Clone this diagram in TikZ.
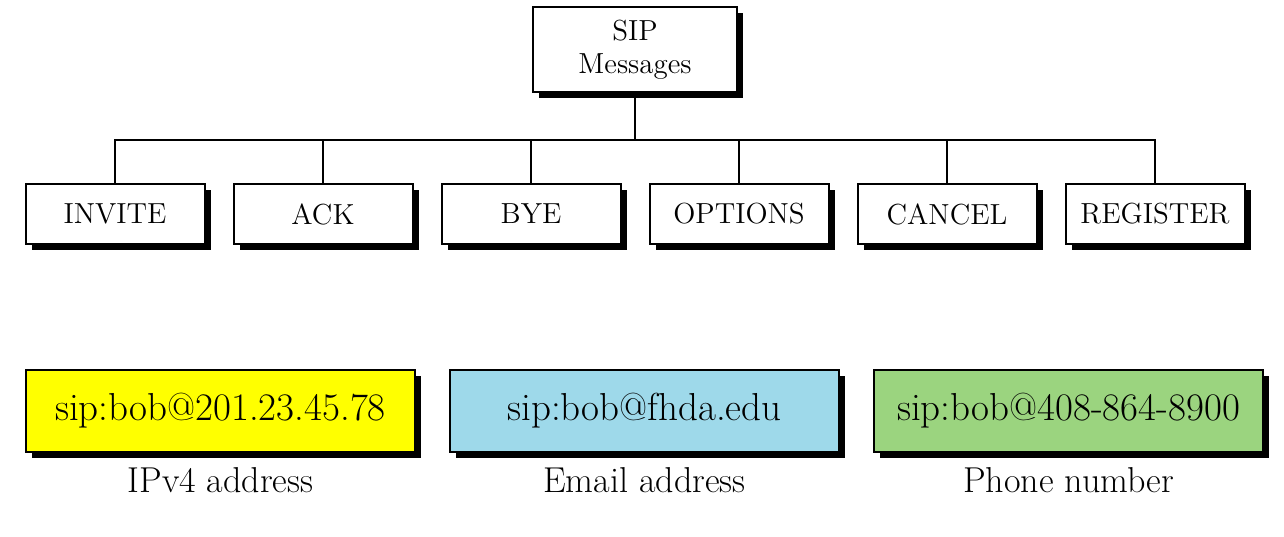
\documentclass[tikz,border=0pt]{standalone}
\usetikzlibrary{positioning,shadows}
\definecolor{ipyellow}{HTML}{FFFF00}
\definecolor{mailblue}{HTML}{9ED9EA}
\definecolor{phonegreen}{HTML}{9BD47F}
\tikzset{
  boxshadow/.style={drop shadow={shadow xshift=3pt, shadow yshift=-3pt, fill=black, opacity=1}},
  msgbox/.style={rectangle, draw, line width=1pt, fill=white, boxshadow,
    minimum width=89.5pt, minimum height=30pt, inner sep=0pt,
    font=\fontsize{14.5}{17}\selectfont},
  rootbox/.style={msgbox, minimum width=102pt, minimum height=42.5pt, align=center,
    font=\fontsize{14.5}{16.5}\selectfont},
  addrbox/.style={rectangle, draw, line width=1pt, boxshadow,
    minimum width=194.5pt, minimum height=41pt, inner sep=0pt,
    font=\fontsize{19.5}{22}\selectfont},
  addrlabel/.style={font=\fontsize{18}{21}\selectfont, inner sep=0pt}
}
\begin{document}
\begin{tikzpicture}[
  x=0.5pt, y=0.5pt,
  level distance=82.25pt,
  level 1/.style={sibling distance=104pt},
  edge from parent/.style={draw, line width=1pt},
  edge from parent path={(\tikzparentnode.south) -- ++(0,-23.5pt) -| (\tikzchildnode.north)}
  ]
  \useasboundingbox (0,0) rectangle (1284,536);
  % message tree
  \node[rootbox] (sip) at (635,486.5) {SIP\\Messages}
    child {node[msgbox] (invite) {INVITE}}
    child {node[msgbox] (ack) {ACK}}
    child {node[msgbox] (bye) {BYE}}
    child {node[msgbox] (options) {OPTIONS}}
    child {node[msgbox] (cancel) {CANCEL}}
    child {node[msgbox] (register) {REGISTER}};
  % address forms
  \node[addrbox, fill=ipyellow] (ipv4) at (220.5,125) {sip:bob@201.23.45.78};
  \node[addrbox, fill=mailblue] (email) at (644.5,125) {sip:bob@fhda.edu};
  \node[addrbox, fill=phonegreen] (phone) at (1068.5,125) {sip:bob@408-864-8900};
  \node[addrlabel, below=7pt of ipv4] (ipv4lbl) {IPv4 address};
  \node[addrlabel, below=7pt of email] (emaillbl) {Email address};
  \node[addrlabel, below=7pt of phone] (phonelbl) {Phone number};
\end{tikzpicture}
\end{document}
